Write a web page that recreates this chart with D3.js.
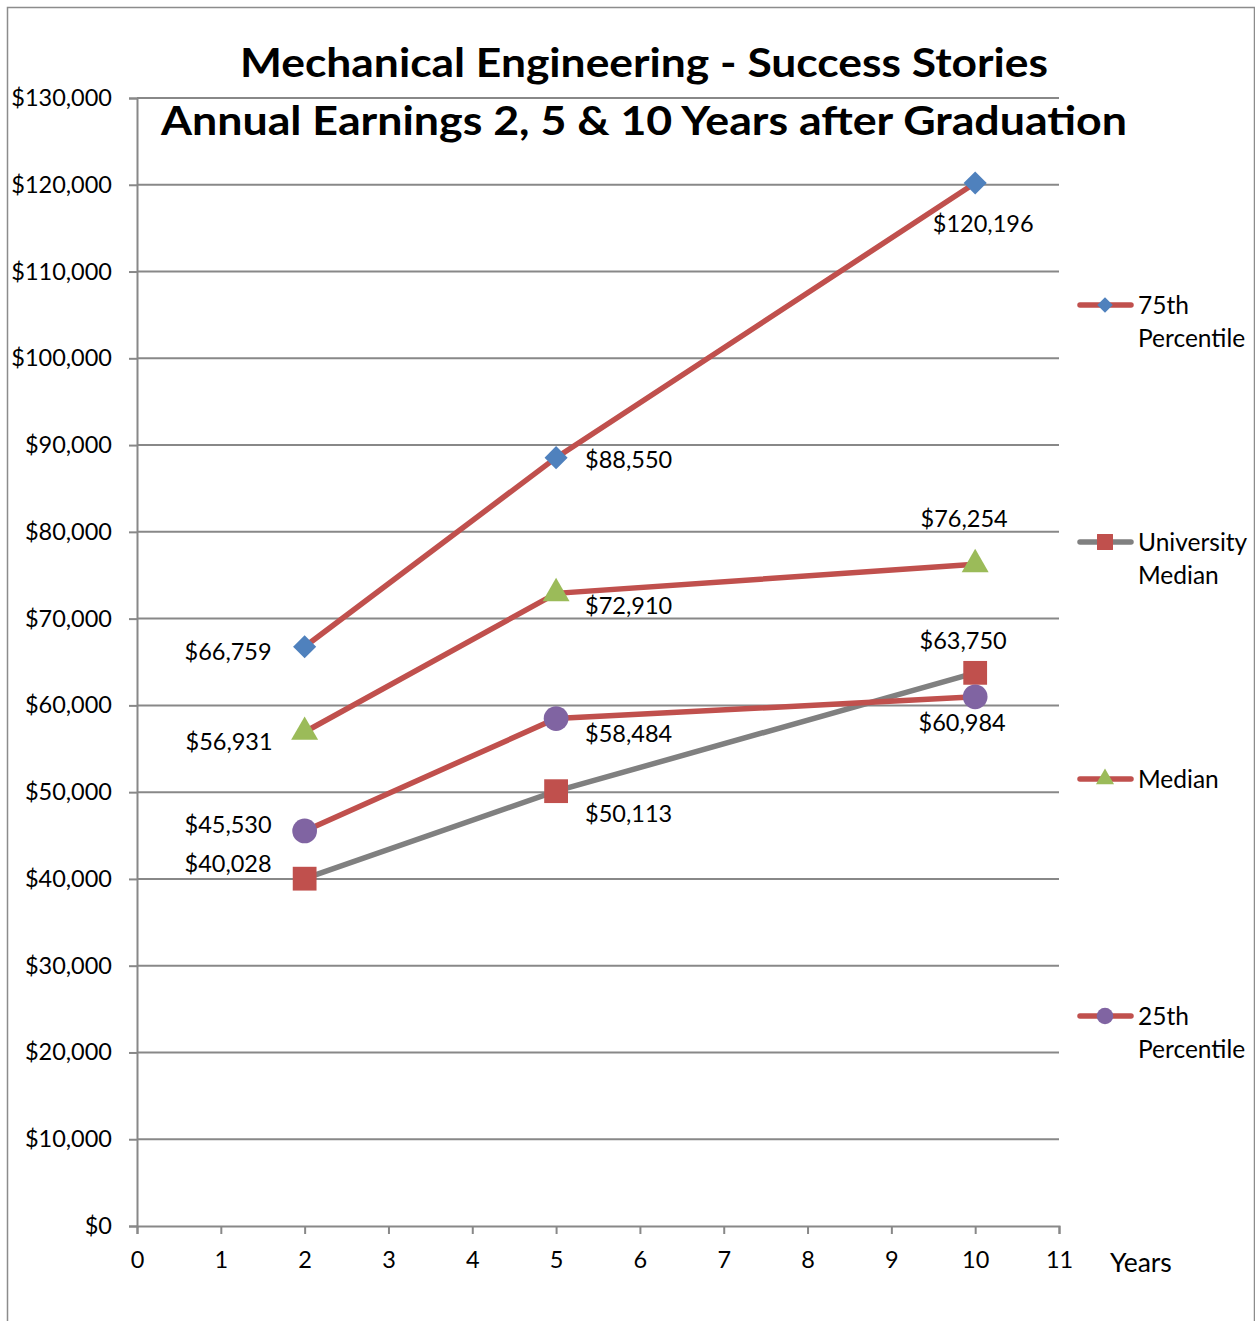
<!DOCTYPE html>
<html><head><meta charset="utf-8">
<script src="https://cdn.jsdelivr.net/npm/d3@7"></script>
<style>body{margin:0;background:#fff}svg text{font-family:Lato,"Open Sans",sans-serif;fill:#000}</style>
</head><body><svg id="c" width="1255" height="1321"></svg>
<script>
const years = [2, 5, 10];
const p75 = [66759, 88550, 120196];
const median = [56931, 72910, 76254];
const uniMedian = [40028, 50113, 63750];
const p25 = [45530, 58484, 60984];
const seriesNames = ["75th Percentile", "University Median", "Median", "25th Percentile"];
const yTicks = d3.range(0, 130001, 10000);
const xTicks = d3.range(0, 12, 1);
const titleLines = ["Mechanical Engineering - Success Stories", "Annual Earnings 2, 5 & 10 Years after Graduation"];

const svg = d3.select("#c");
const x = d3.scaleLinear().domain([0, 11]).range([137, 1059]);
const y = d3.scaleLinear().domain([0, 130000]).range([1226, 98]);
const fmt = v => "$" + d3.format(",")(v);

// frame
svg.append("path").attr("d","M7.5,1321 V7.5 H1254.5 V1321").attr("fill","none").attr("stroke","#8c8c8c").attr("stroke-width",1.5);

// gridlines
svg.append("g").selectAll("line").data(yTicks.filter(d=>d>0)).join("line")
  .attr("x1",137).attr("x2",1059).attr("y1",d=>y(d)).attr("y2",d=>y(d))
  .attr("stroke","#888").attr("stroke-width",2);

// y axis
const ya = svg.append("g").attr("transform","translate(137,0)")
  .call(d3.axisLeft(y).tickValues(yTicks).tickFormat(fmt).tickSizeOuter(0).tickSize(8).tickPadding(17));
ya.select(".domain").attr("stroke","#888").attr("stroke-width",2);
ya.selectAll(".tick line").attr("stroke","#888").attr("stroke-width",2);
ya.selectAll("text").attr("font-size",23.5).attr("font-family","Lato").attr("fill","#000").attr("dy","0.32em");

// x axis
const xa = svg.append("g").attr("transform","translate(0,1226)")
  .call(d3.axisBottom(x).tickValues(xTicks).tickFormat(d3.format("d")).tickSizeOuter(0).tickSize(8).tickPadding(17));
xa.select(".domain").attr("stroke","#888").attr("stroke-width",2);
xa.selectAll(".tick line").attr("stroke","#888").attr("stroke-width",2);
xa.selectAll("text").attr("font-size",23.5).attr("font-family","Lato").attr("fill","#000");
svg.append("text").attr("x",1110).attr("y",1272).attr("font-size",26.5).text("Years");

// title
titleLines.forEach((t,i)=>{
  svg.append("text").attr("x",644).attr("y",[77,135][i]).attr("text-anchor","middle")
    .attr("font-size",41).attr("font-weight","bold")
    .attr("textLength",[808,966][i]).attr("lengthAdjust","spacingAndGlyphs").text(t);
});

const red="#C0504D", gray="#808080";
const series = [
  {name:seriesNames[0], vals:p75, line:red, mk:"#4F81BD", sym:d3.symbolDiamond2, size:340,
   labels:[["end",-33,5],["start",29,2],["middle",8,41]]},
  {name:seriesNames[1], vals:uniMedian, line:gray, mk:"#C0504D", sym:d3.symbolSquare2, size:720,
   labels:[["end",-33,-15],["start",29,23],["middle",-12,-32]]},
  {name:seriesNames[2], vals:median, line:red, mk:"#9BBB59", sym:d3.symbolTriangle2, size:520,
   labels:[["end",-32,10],["start",29,12],["middle",-11,-46]]},
  {name:seriesNames[3], vals:p25, line:red, mk:"#8064A2", sym:d3.symbolCircle, size:480,
   labels:[["end",-33,-6],["start",29,15],["middle",-13,26]]}
];
const drawOrder=[1,0,2,3];
const line = d3.line().x((d,i)=>x(years[i])).y(d=>y(d));
drawOrder.forEach(k=>{
  const s=series[k];
  svg.append("path").attr("d",line(s.vals)).attr("fill","none").attr("stroke",s.line).attr("stroke-width",5.5);
});
drawOrder.forEach(k=>{
  const s=series[k];
  svg.append("g").selectAll("path").data(s.vals).join("path")
    .attr("transform",(d,i)=>`translate(${x(years[i])},${y(d)})`)
    .attr("d",d3.symbol().type(s.sym).size(s.size)).attr("fill",s.mk);
  svg.append("g").selectAll("text").data(s.vals).join("text")
    .attr("x",(d,i)=>x(years[i])+s.labels[i][1]).attr("y",(d,i)=>y(d)+s.labels[i][2])
    .attr("text-anchor",(d,i)=>s.labels[i][0]).attr("font-size",23.5).attr("dy","0.35em").text(fmt);
});

// legend
const legY=[305,542,779,1016];
series.forEach((s,i)=>{
  const g=svg.append("g").attr("transform",`translate(0,${legY[i]})`);
  g.append("line").attr("x1",1080).attr("x2",1131).attr("stroke",s.line).attr("stroke-width",5.5).attr("stroke-linecap","round");
  g.append("path").attr("transform","translate(1105,0)").attr("d",d3.symbol().type(s.sym).size(s.size*0.45)).attr("fill",s.mk);
  const parts=s.name.split(" ");
  const t=g.append("text").attr("x",1138).attr("y",0).attr("font-size",24.5).attr("dy","0.35em");
  if(s.name==="Median"){t.text("Median");}
  else{
    t.append("tspan").attr("x",1138).text(parts[0]);
    t.append("tspan").attr("x",1138).attr("dy","1.35em").text(parts[1]);
  }
});
</script></body></html>
